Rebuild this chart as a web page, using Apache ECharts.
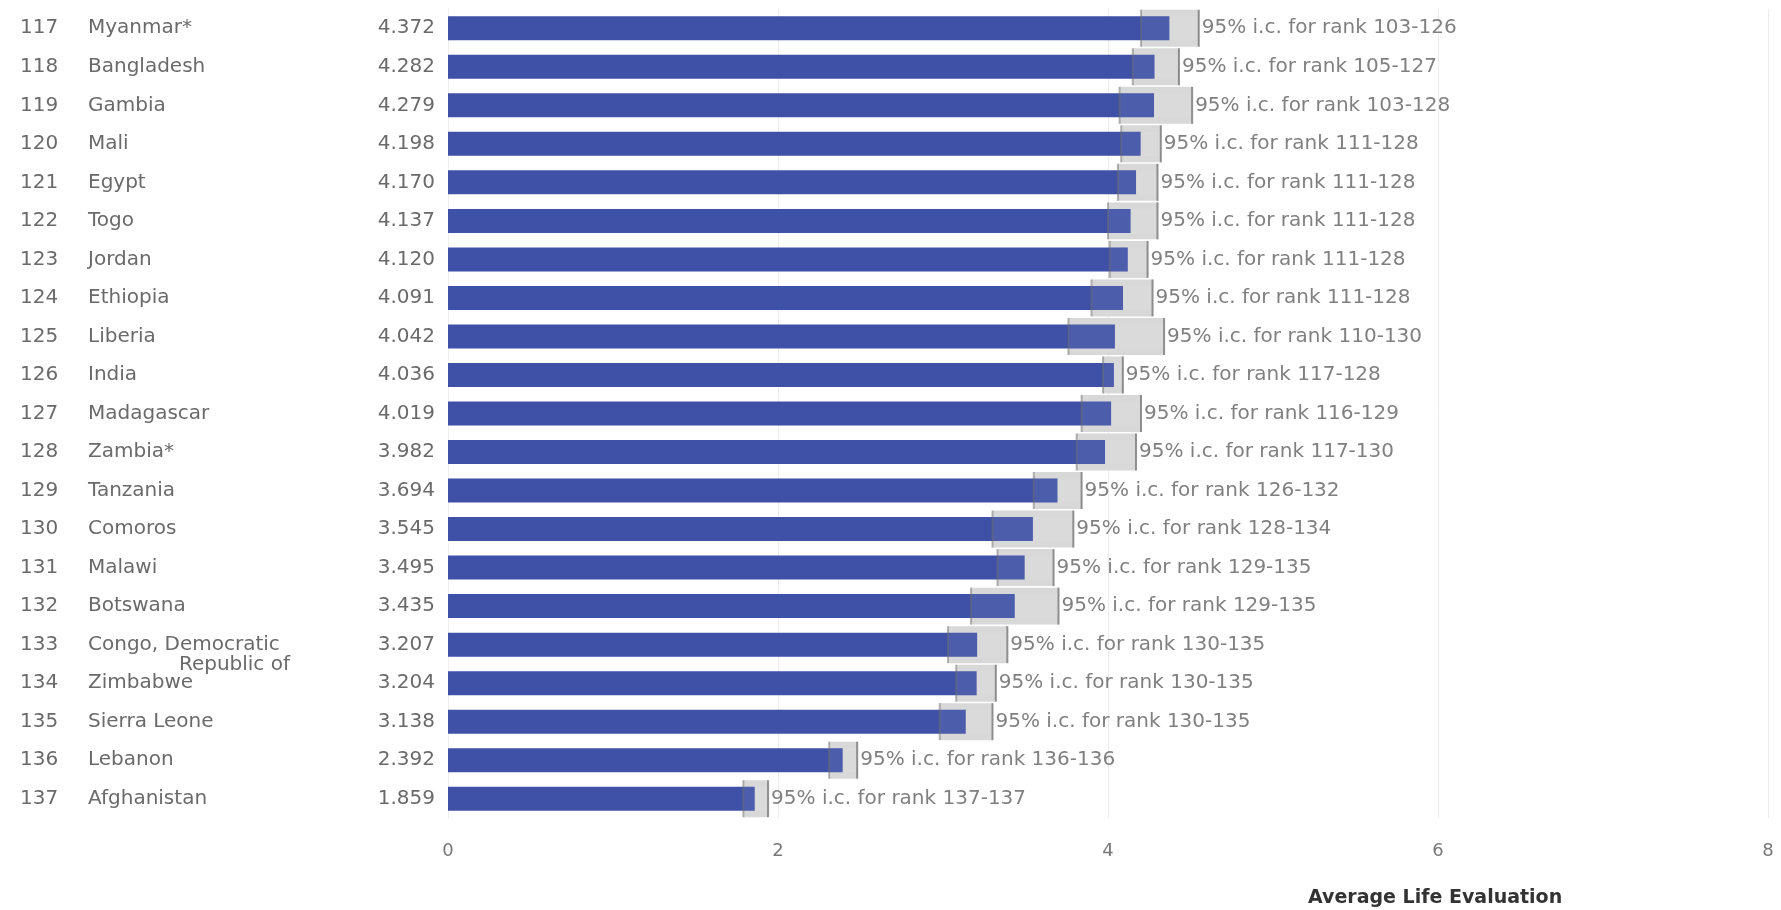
<!DOCTYPE html>
<html>
<head>
<meta charset="utf-8">
<script src="https://cdn.jsdelivr.net/npm/echarts@6/dist/echarts.min.js"></script>
<style>
html,body{margin:0;padding:0;background:#fff;}
#chart{width:1781px;height:910px;}
</style>
</head>
<body>
<div id="chart"></div>
<script>
const ranks = [117,118,119,120,121,122,123,124,125,126,127,128,129,130,131,132,133,134,135,136,137];
const countries = ['Myanmar*','Bangladesh','Gambia','Mali','Egypt','Togo','Jordan','Ethiopia','Liberia','India','Madagascar','Zambia*','Tanzania','Comoros','Malawi','Botswana','Congo, Democratic\nRepublic of','Zimbabwe','Sierra Leone','Lebanon','Afghanistan'];
const scores = [4.372,4.282,4.279,4.198,4.170,4.137,4.120,4.091,4.042,4.036,4.019,3.982,3.694,3.545,3.495,3.435,3.207,3.204,3.138,2.392,1.859];
const ciLow  = [4.20,4.15,4.07,4.08,4.06,4.00,4.01,3.90,3.76,3.97,3.84,3.81,3.55,3.30,3.33,3.17,3.03,3.08,2.98,2.31,1.79];
const ciHigh = [4.55,4.43,4.51,4.32,4.30,4.30,4.24,4.27,4.34,4.09,4.20,4.17,3.84,3.79,3.67,3.70,3.39,3.32,3.30,2.48,1.94];
const rankLow  = [103,105,103,111,111,111,111,111,110,117,116,117,126,128,129,129,130,130,130,136,137];
const rankHigh = [126,127,128,128,128,128,128,128,130,128,129,130,132,134,135,135,135,135,135,136,137];
const xMin = 0, xMax = 8, xStep = 2;
const axisTitle = 'Average Life Evaluation';

const FONT = 'DejaVu Sans';
const chart = echarts.init(document.getElementById('chart'), null, {renderer:'canvas'});

const ciData = countries.map((c,i)=>[i, ciLow[i], ciHigh[i]]);

const option = {
  animation:false,
  backgroundColor:'#fff',
  grid:{left:448,right:13,top:9,bottom:92,containLabel:false},
  xAxis:{
    type:'value',min:xMin,max:xMax,interval:xStep,
    axisLine:{show:false},axisTick:{show:false},
    splitLine:{show:true,lineStyle:{color:'#ececec',width:1}},
    axisLabel:{color:'#777',fontSize:18,fontFamily:FONT,margin:24}
  },
  yAxis:{
    type:'category',inverse:true,data:countries,
    axisLine:{show:true,lineStyle:{color:'#eeeeee'}},
    axisTick:{show:false},
    axisLabel:{
      margin:13,
      formatter:function(v,i){
        const parts = String(v).split('\n');
        const main = '{r|'+ranks[i]+'}{c|'+parts[0]+'}{v|'+scores[i].toFixed(3)+'}';
        if(parts.length>1){
          return '{r| }\n'+main+'\n{r| }{c2|'+parts[1]+'}{f| }';
        }
        return main;
      },
      rich:{
        r:{width:68,align:'left',color:'#6a6a6a',fontSize:20,fontFamily:FONT,lineHeight:20},
        c:{width:270,align:'left',color:'#6a6a6a',fontSize:20,fontFamily:FONT,lineHeight:20},
        v:{width:77,align:'right',color:'#6a6a6a',fontSize:20,fontFamily:FONT,lineHeight:20},
        c2:{width:202,align:'right',color:'#6a6a6a',fontSize:20,fontFamily:FONT,lineHeight:20},
        f:{width:145,align:'right',color:'#6a6a6a',fontSize:20,fontFamily:FONT,lineHeight:20}
      }
    }
  },
  graphic:[{
    type:'text',left:1308,top:889,
    style:{text:axisTitle,fill:'#333',font:'bold 19px "DejaVu Sans"'}
  }],
  series:[
    {
      type:'custom',z:1,
      data:ciData,
      encode:{x:[1,2],y:0},
      renderItem:function(params,api){
        const idx = api.value(0);
        const p0 = api.coord([api.value(1), idx]);
        const p1 = api.coord([api.value(2), idx]);
        const h = api.size([0,1])[1]*0.96;
        return {
          type:'rect',
          shape:{x:p0[0],y:p0[1]-h/2,width:p1[0]-p0[0],height:h},
          style:{fill:'#d8d8d8'}
        };
      }
    },
    {
      type:'bar',z:2,data:scores,barWidth:24,
      itemStyle:{color:'#3f51a6'}
    },
    {
      type:'custom',z:3,
      data:ciData,
      encode:{x:[1,2],y:0},
      renderItem:function(params,api){
        const idx = api.value(0);
        const i = params.dataIndex;
        const p0 = api.coord([api.value(1), idx]);
        const p1 = api.coord([api.value(2), idx]);
        const h = api.size([0,1])[1]*0.96;
        return {
          type:'group',
          children:[
            {type:'rect',shape:{x:p0[0],y:p0[1]-12,width:p1[0]-p0[0],height:24},style:{fill:'rgba(255,255,255,0.07)'}},
            {type:'line',shape:{x1:p0[0],y1:p0[1]-h/2,x2:p0[0],y2:p0[1]+h/2},style:{stroke:'rgba(110,110,110,0.5)',lineWidth:2}},
            {type:'line',shape:{x1:p1[0],y1:p1[1]-h/2,x2:p1[0],y2:p1[1]+h/2},style:{stroke:'rgba(110,110,110,0.75)',lineWidth:2}},
            {type:'text',style:{text:'95% i.c. for rank '+rankLow[i]+'-'+rankHigh[i],x:p1[0]+3,y:p1[1],verticalAlign:'middle',align:'left',fill:'#808080',font:'20px "DejaVu Sans"'}}
          ]
        };
      }
    }
  ]
};
chart.setOption(option);
</script>
</body>
</html>
